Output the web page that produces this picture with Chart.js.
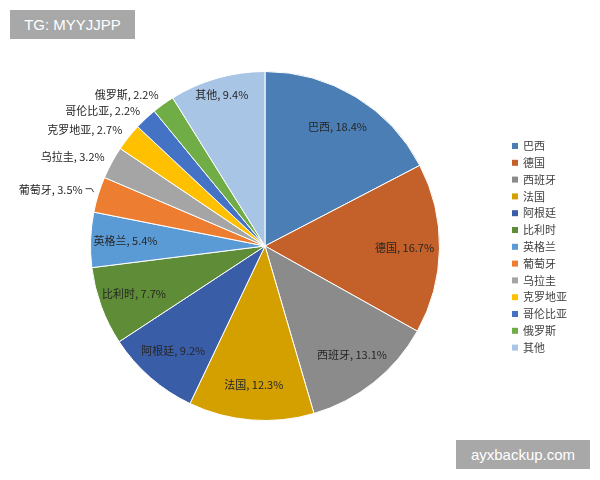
<!DOCTYPE html>
<html>
<head>
<meta charset="utf-8">
<script src="https://cdn.jsdelivr.net/npm/chart.js@4"></script>
<style>
  html, body { margin: 0; padding: 0; background: #fff; }
  #wrap { position: relative; width: 600px; height: 480px; }
  .marca { position: absolute; background: #a8a8a8; color: #fff; font: 15px "Liberation Sans", Arial, sans-serif; line-height: 29px; text-align: center; }
</style>
</head>
<body>
<div id="wrap">
  <canvas id="graficoPizza" width="600" height="480"></canvas>
  <div class="marca" style="left:10px; top:10px; width:125px; height:29px;">TG: MYYJJPP</div>
  <div class="marca" style="left:456px; top:440px; width:134px; height:29px;">ayxbackup.com</div>
</div>
<script>
// dados
const paises = ['巴西', '德国', '西班牙', '法国', '阿根廷', '比利时', '英格兰', '葡萄牙', '乌拉圭', '克罗地亚', '哥伦比亚', '俄罗斯', '其他'];
const percentuais = [18.4, 16.7, 13.1, 12.3, 9.2, 7.7, 5.4, 3.5, 3.2, 2.7, 2.2, 2.2, 9.4];
const cores = ['#4a7eb4', '#c4602a', '#8b8b8b', '#d4a000', '#3a5da8', '#5e8c37', '#5b9bd5', '#ed7d31', '#a5a5a5', '#ffc000', '#4472c4', '#70ad47', '#a9c5e6'];

const fonteCJK = '"Noto Sans CJK SC", "Noto Sans", sans-serif';

// rótulos e legenda desenhados à mão
const rotulosPlugin = {
  id: 'rotulos',
  afterDraw(chart) {
    const ctx = chart.ctx;
    const arcos = chart.getDatasetMeta(0).data;
    ctx.save();
    ctx.font = '11px ' + fonteCJK;
    ctx.fillStyle = '#262626';
    arcos.forEach((arco, i) => {
      const meio = (arco.startAngle + arco.endAngle) / 2;
      const texto = paises[i] + ', ' + percentuais[i].toFixed(1) + '%';
      if (percentuais[i] < 4) {
        const r = arco.outerRadius + 8;
        let x = arco.x + r * Math.cos(meio);
        const y = arco.y + r * Math.sin(meio);
        // linha de chamada do葡萄牙 (fica mais longe do arco)
        if (i === 7) {
          x -= 8;
          ctx.strokeStyle = '#404040';
          ctx.lineWidth = 1;
          ctx.beginPath();
          ctx.moveTo(x + 3, y - 3.5);
          ctx.lineTo(x + 9, y - 3.5);
          ctx.lineTo(x + 11, y);
          ctx.stroke();
        }
        ctx.textAlign = 'right';
        ctx.textBaseline = 'bottom';
        ctx.fillText(texto, x, y + 3);
      } else {
        const r = arco.outerRadius * (i === 12 ? 0.9 : 0.8);
        const x = arco.x + r * Math.cos(meio);
        const y = arco.y + r * Math.sin(meio);
        ctx.textAlign = 'center';
        ctx.textBaseline = 'middle';
        ctx.fillText(texto, x, y);
      }
    });

    // legenda
    ctx.font = '11px ' + fonteCJK;
    ctx.textAlign = 'left';
    ctx.textBaseline = 'middle';
    paises.forEach((nome, i) => {
      const y = 146 + i * 16.8;
      ctx.fillStyle = cores[i];
      ctx.fillRect(512, y - 3, 6, 6);
      ctx.fillStyle = '#404040';
      ctx.fillText(nome, 523, y);
    });
    ctx.restore();
  }
};

const ctxPizza = document.getElementById('graficoPizza').getContext('2d');
const graficoPizza = new Chart(ctxPizza, {
  type: 'pie',
  data: {
    labels: paises,
    datasets: [{
      data: percentuais,
      backgroundColor: cores,
      borderColor: '#ffffff',
      borderWidth: 1
    }]
  },
  options: {
    responsive: false,
    animation: false,
    layout: { padding: { left: 90, right: 160, top: 71, bottom: 59 } },
    plugins: {
      legend: { display: false },
      tooltip: { enabled: false }
    }
  },
  plugins: [rotulosPlugin]
});
</script>
</body>
</html>
